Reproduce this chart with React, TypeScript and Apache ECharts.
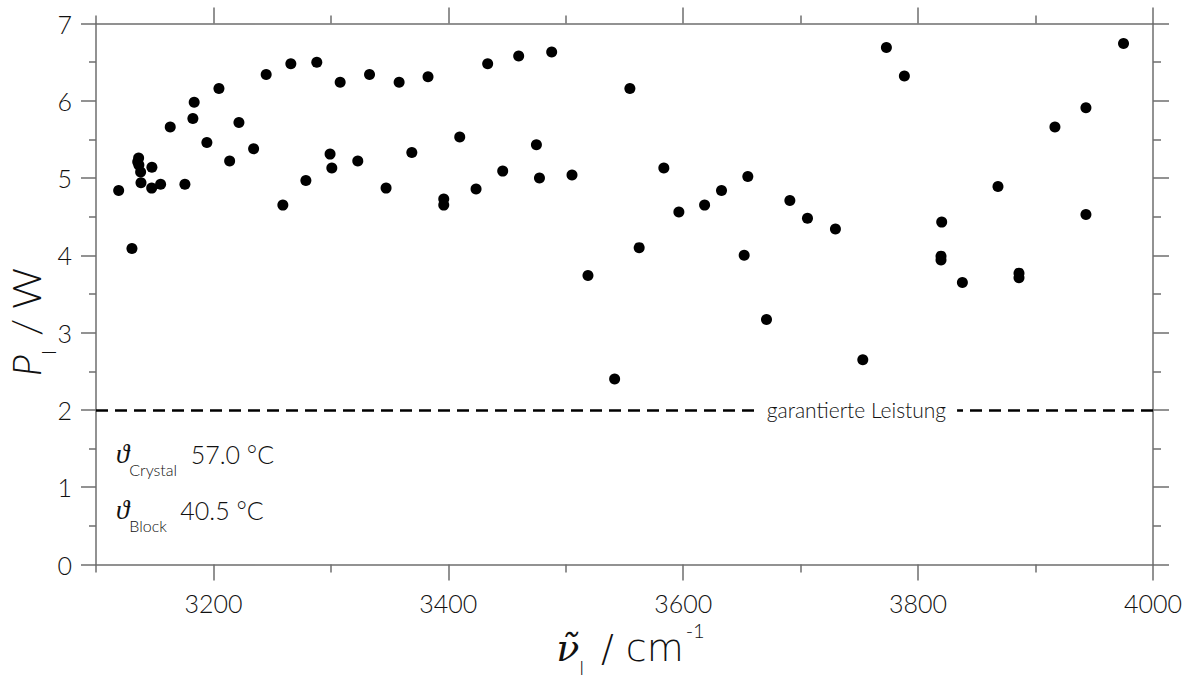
import React, { useEffect, useRef } from "react";
import * as echarts from "echarts";

// ---- data -------------------------------------------------------------
const xMin = 3100;
const xMax = 4000;
const xMajorTicks = [3200, 3400, 3600, 3800, 4000];
const xMinorTicks = [3100, 3300, 3500, 3700, 3900];
const yMin = 0;
const yMax = 7;

const wavenumber = [
  3119.3, 3130.6, 3136.3, 3135.5, 3136.5, 3138.0, 3147.6, 3138.3, 3147.4, 3155.0,
  3175.7, 3163.2, 3183.6, 3182.5, 3204.7, 3194.4, 3221.7, 3213.8, 3234.2, 3244.9,
  3265.9, 3288.0, 3259.1, 3278.7, 3299.3, 3300.8, 3307.9, 3322.9, 3332.9, 3347.0,
  3358.1, 3368.9, 3382.7, 3396.1, 3396.1, 3409.7, 3423.6, 3433.5, 3446.3, 3459.9,
  3475.0, 3477.6, 3488.0, 3505.3, 3518.9, 3541.6, 3554.6, 3562.5, 3583.5, 3596.3,
  3618.2, 3632.6, 3651.9, 3655.0, 3670.9, 3690.8, 3705.8, 3729.6, 3752.9, 3773.0,
  3788.3, 3820.1, 3819.5, 3819.5, 3837.7, 3868.0, 3885.9, 3885.9, 3916.5, 3942.9,
  3942.9, 3974.9,
];
const power = [
  4.84, 4.09, 5.26, 5.21, 5.17, 5.08, 5.14, 4.94, 4.87, 4.92,
  4.92, 5.66, 5.98, 5.77, 6.16, 5.46, 5.72, 5.22, 5.38, 6.34,
  6.48, 6.5, 4.65, 4.97, 5.31, 5.13, 6.24, 5.22, 6.34, 4.87,
  6.24, 5.33, 6.31, 4.73, 4.65, 5.53, 4.86, 6.48, 5.09, 6.58,
  5.43, 5.0, 6.63, 5.04, 3.74, 2.4, 6.16, 4.1, 5.13, 4.56,
  4.65, 4.84, 4.0, 5.02, 3.17, 4.71, 4.48, 4.34, 2.65, 6.69,
  6.32, 4.43, 3.99, 3.94, 3.65, 4.89, 3.77, 3.71, 5.66, 5.91,
  4.53, 6.74,
];

const guaranteedPower = 2;
const guaranteedLabel = "garantierte Leistung";
const guaranteedLabelX = 3747.5;

const crystalTemp = "57.0 °C";
const blockTemp = "40.5 °C";

// ---- chart -------------------------------------------------------------
const FONT = "Lato";
const TEXT = "#111";
const AXIS = "#6e6e6e";

export default function App() {
  const ref = useRef<HTMLDivElement>(null);

  useEffect(() => {
    document.body.style.margin = "0";
    if (!ref.current) return;
    const chart = echarts.init(ref.current, undefined, { renderer: "svg" });

    const lineStyle = { color: AXIS, width: 1.5 };
    const baseX = {
      type: "value" as const,
      min: xMin,
      max: xMax,
      interval: 100,
      splitLine: { show: false },
    };
    const baseY = {
      type: "value" as const,
      min: yMin,
      max: yMax,
      interval: 1,
      splitLine: { show: false },
    };

    const points = wavenumber.map((x, i) => [x, power[i]]);

    const annoRich = {
      t: { fontSize: 27, fontFamily: "Liberation Serif", fontStyle: "italic", fill: TEXT, lineHeight: 30 },
      s: { fontSize: 16, fontFamily: FONT, fontWeight: 300, fill: TEXT, verticalAlign: "bottom", lineHeight: 16, padding: [0, 0, -9, 0] },
      v: { fontSize: 25, fontFamily: FONT, fontWeight: 300, fill: TEXT, lineHeight: 30 },
    };

    chart.setOption({
      animation: false,
      backgroundColor: "#fff",
      textStyle: { fontFamily: FONT },
      grid: {
        left: 96,
        right: 44,
        top: 23.5,
        bottom: 110.5,
        containLabel: false,
        outerBoundsMode: "none",
      },
      xAxis: [
        {
          ...baseX,
          position: "bottom",
          axisLine: { show: true, lineStyle },
          axisTick: { show: true, length: 16, customValues: xMajorTicks, lineStyle },
          axisLabel: {
            show: true,
            customValues: xMajorTicks,
            formatter: (v: number) => String(v),
            fontSize: 25,
            fontWeight: 300,
            color: TEXT,
            margin: 26,
            fontFamily: FONT,
          },
          name: "{i|ν\u0303}{sub|l}{n| / cm}{sup|-1}",
          nameLocation: "middle",
          nameGap: 45,
          nameTextStyle: {
            color: TEXT,
            padding: [0, 0, 0, 12],
            rich: {
              i: { fontSize: 38, fontFamily: "DejaVu Serif", fontStyle: "italic", color: TEXT, lineHeight: 44 },
              sub: { fontSize: 20, fontFamily: FONT, fontWeight: 300, color: TEXT, verticalAlign: "bottom", lineHeight: 20, padding: [0, 5, -7, 0] },
              n: { fontSize: 38, fontFamily: "DejaVu Sans", fontWeight: 200, color: TEXT, lineHeight: 44 },
              sup: { fontSize: 20, fontFamily: FONT, fontWeight: 300, color: TEXT, verticalAlign: "top", lineHeight: 20, padding: [-6, 0, 0, 2] },
            },
          },
        },
        {
          ...baseX,
          position: "bottom",
          axisLine: { show: false },
          axisTick: { show: true, length: 8, customValues: xMinorTicks, lineStyle },
          axisLabel: { show: false },
        },
        {
          ...baseX,
          position: "top",
          axisLine: { show: true, lineStyle },
          axisTick: { show: true, length: 16, customValues: xMajorTicks, lineStyle },
          axisLabel: { show: false },
        },
        {
          ...baseX,
          position: "top",
          axisLine: { show: false },
          axisTick: { show: true, length: 8, customValues: xMinorTicks, lineStyle },
          axisLabel: { show: false },
        },
      ],
      yAxis: [
        {
          ...baseY,
          position: "left",
          axisLine: { show: true, lineStyle },
          axisTick: { show: true, length: 15, lineStyle },
          minorTick: { show: true, splitNumber: 2, length: 7, lineStyle },
          axisLabel: {
            show: true,
            fontSize: 25,
            fontWeight: 300,
            color: TEXT,
            margin: 24,
            fontFamily: FONT,
          },
          name: "{i|P}{sub|l}{n| / W}",
          nameLocation: "middle",
          nameRotate: 90,
          nameGap: 48,
          nameMoveOverlap: false,
          nameTextStyle: {
            color: TEXT,
            padding: [0, 56, 0, 0],
            rich: {
              i: { fontSize: 40, fontFamily: FONT, fontStyle: "italic", fontWeight: 300, color: TEXT, lineHeight: 44 },
              sub: { fontSize: 20, fontFamily: FONT, fontWeight: 300, color: TEXT, verticalAlign: "bottom", lineHeight: 20, padding: [0, 3, -10, 0] },
              n: { fontSize: 40, fontFamily: FONT, fontWeight: 300, color: TEXT, lineHeight: 44 },
            },
          },
        },
        {
          ...baseY,
          position: "right",
          axisLine: { show: true, lineStyle },
          axisTick: { show: true, length: 16, lineStyle },
          minorTick: { show: true, splitNumber: 2, length: 8, lineStyle },
          axisLabel: { show: false },
        },
      ],
      series: [
        {
          type: "scatter",
          xAxisIndex: 0,
          yAxisIndex: 0,
          data: points,
          symbol: "circle",
          symbolSize: 11,
          itemStyle: { color: "#000", opacity: 1 },
          z: 5,
          markLine: {
            silent: true,
            symbol: "none",
            label: { show: false },
            lineStyle: { color: "#000", width: 2.5, type: [12, 7], opacity: 1 },
            data: [[{ coord: [xMin, guaranteedPower] }, { coord: [xMax, guaranteedPower] }]],
          },
        },
        {
          type: "scatter",
          xAxisIndex: 0,
          yAxisIndex: 0,
          data: [[guaranteedLabelX, guaranteedPower]],
          symbolSize: 0,
          itemStyle: { color: "#fff", opacity: 1 },
          z: 10,
          label: {
            show: true,
            position: "inside",
            formatter: guaranteedLabel,
            fontSize: 21,
            fontWeight: 300,
            fontFamily: FONT,
            color: TEXT,
            opacity: 1,
            textBorderWidth: 0,
            backgroundColor: "#fff",
            padding: [3, 11, 3, 11],
          },
        },
      ],
      graphic: [
        {
          type: "text",
          left: 116,
          top: 440,
          style: { text: "{t|ϑ}{s|Crystal}{v|  " + crystalTemp + "}", rich: annoRich },
        },
        {
          type: "text",
          left: 116,
          top: 496,
          style: { text: "{t|ϑ}{s|Block}{v|  " + blockTemp + "}", rich: annoRich },
        },
      ],
    });

    return () => chart.dispose();
  }, []);

  return <div ref={ref} style={{ width: 1197, height: 675 }} />;
}
